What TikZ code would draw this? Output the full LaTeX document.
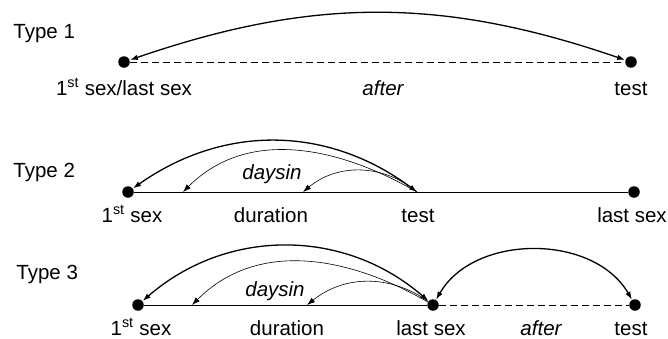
\documentclass[tikz,border=0pt]{standalone}
\usepackage{fontspec}
\setmainfont{Liberation Sans}
\usetikzlibrary{arrows.meta}
\tikzset{every path/.style={line width=0.9pt,color=black},
  >={Latex[length=8pt,width=5.5pt]},
  dot/.style={circle,fill=black,inner sep=0pt,minimum size=11.5pt},
  lbl/.style={anchor=base,inner sep=0pt,font=\fontsize{20.5}{20.5}\selectfont},
  bigarc/.style={draw,line width=1.3pt},
  thinarc/.style={draw,line width=0.6pt},
  gap/.style={draw,dash pattern=on 7pt off 4pt}}

\begin{document}
\begin{tikzpicture}[x=1pt,y=-1pt]
\useasboundingbox (0,0) rectangle (668,338);
% dots
\node[dot] (fa) at (124,62) {};
\node[dot] (ta) at (631,62) {};
\node[dot] (fb) at (128,192) {};
\node[dot] (lb) at (634,192) {};
\node[dot] (fc) at (138,305) {};
\node[dot] (lc) at (433,305) {};
\node[dot] (tc) at (635,305) {};
\coordinate (tb) at (417,192);
\coordinate (db) at (183,192);
\coordinate (sb) at (303,192);
\coordinate (dc) at (192,305);
\coordinate (sc) at (307,305);

% labels
\node[lbl,anchor=base west] (type1) at (13,38) {Type 1};
\node[lbl,anchor=base west] (type2) at (13,177) {Type 2};
\node[lbl,anchor=base west] (type3) at (16,279) {Type 3};
\node[lbl] (la1) at (124,95) {1\textsuperscript{st} sex/last sex};
\node[lbl] (la2) at (383,95) {\itshape after};
\node[lbl] (la3) at (631,95) {test};
\node[lbl] (lb1) at (132,222) {1\textsuperscript{st} sex};
\node[lbl] (lb2) at (271,222) {duration};
\node[lbl] (lb3) at (418,222) {test};
\node[lbl] (lb4) at (632,222) {last sex};
\node[lbl] (lb5) at (272,179) {\itshape daysin};
\node[lbl] (lc1) at (141,335) {1\textsuperscript{st} sex};
\node[lbl] (lc2) at (287,335) {duration};
\node[lbl] (lc3) at (431,335) {last sex};
\node[lbl] (lc4) at (541,335) {\itshape after};
\node[lbl] (lc5) at (631,335) {test};
\node[lbl] (lc6) at (275,296) {\itshape daysin};

% Type 1
\path[gap] (fa) -- (ta);
\path[bigarc,<->] (fa) to[bend left=19] (ta);

% Type 2
\draw (fb) -- (lb);
\path[bigarc,<->] (tb) to[bend right=36] (fb);
\path[thinarc,->] (tb) to[out=150,in=45] (db);
\path[thinarc,->] (tb) to[bend right=40] (sb);

% Type 3
\draw (fc) -- (lc);
\path[gap] (lc) -- (tc);
\path[bigarc,<->] (lc) to[bend right=41] (fc);
\path[thinarc,->] (lc) to[out=150,in=45] (dc);
\path[thinarc,->] (lc) to[bend right=37] (sc);
\path[bigarc,<->] (lc) to[bend left=60] (tc);
\end{tikzpicture}
\end{document}
